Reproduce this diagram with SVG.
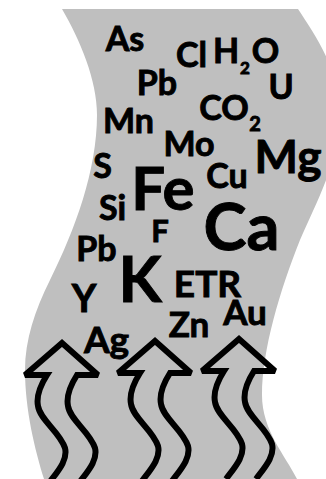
<svg xmlns="http://www.w3.org/2000/svg" width="326" height="479" viewBox="0 0 326 479">
<style>
.t{font-family:Lato,"Open Sans","Liberation Sans",sans-serif;font-weight:700;fill:#000;stroke:#000;stroke-width:0.9;text-anchor:middle}
.s{font-size:34px}
.arrow{fill:none;stroke:#000;stroke-width:6;stroke-linejoin:miter;stroke-miterlimit:2.5}
</style>
<defs>
<path id="arr" d="M-13,140 C-4,128 6,117 3,105 C-2,89 -22,77 -24,63 C-26,53 -22,43 -15,32 L-37,32 L0,0 L36,32 L15,32 C8,43 4,53 6,63 C8,77 28,89 33,105 C36,117 26,128 17,140"/>
</defs>
<g id="band">
<path d="M62,9 C80,40 97,80 97,115 C97,170 75,230 50,280 C35,310 25,340 25,370 C25,410 35,450 44,479 L297,479 C285,455 262,430 262,395 C262,350 280,290 300,240 C315,205 340,160 340,115 C340,70 315,35 298,9 Z" fill="#bfbfbf"/>
</g>
<g id="labels">
<text id="As" class="t s" x="125" y="51">As</text>
<text id="Pb1" class="t s" x="157" y="95">Pb</text>
<text id="Cl" class="t s" x="191.5" y="67">Cl</text>
<g id="H2O">
<text class="t s" x="226" y="63">H</text>
<text class="t" style="font-size:17px" x="245" y="74">2</text>
<text class="t s" x="265.5" y="63">O</text>
</g>
<text id="U" class="t s" x="281" y="99">U</text>
<g id="CO2">
<text class="t s" x="224" y="120">CO</text>
<text class="t" style="font-size:20px" x="255" y="131">2</text>
</g>
<text id="Mn" class="t s" x="128.5" y="133">Mn</text>
<text id="Mo" class="t s" x="189" y="156">Mo</text>
<text id="Mg" class="t" style="font-size:46px" x="288" y="173">Mg</text>
<text id="Cu" class="t s" x="227" y="188">Cu</text>
<text id="S" class="t s" x="102.5" y="178">S</text>
<text id="Fe" class="t" style="font-size:60px" x="163" y="210">Fe</text>
<text id="Si" class="t s" x="112.5" y="220">Si</text>
<text id="F" class="t" style="font-size:31px" x="160" y="242">F</text>
<text id="Ca" class="t" style="font-size:65px" x="241.5" y="250">Ca</text>
<text id="Pb2" class="t s" x="96.5" y="261">Pb</text>
<text id="K" class="t" style="font-size:63px" x="140" y="302">K</text>
<text id="ETR" class="t" style="font-size:37px" x="207.5" y="297">ETR</text>
<text id="Y" class="t" style="font-size:38px" x="84" y="312">Y</text>
<text id="Au" class="t" style="font-size:35px" x="245" y="325">Au</text>
<text id="Zn" class="t" style="font-size:35px" x="189" y="337">Zn</text>
<text id="Ag" class="t" style="font-size:37px" x="106.5" y="353">Ag</text>
</g>
<g id="arrows">
<use href="#arr" class="arrow" transform="translate(62,343)"/>
<use href="#arr" class="arrow" transform="translate(155,341)"/>
<use href="#arr" class="arrow" transform="translate(239,339)"/>
</g>
</svg>
